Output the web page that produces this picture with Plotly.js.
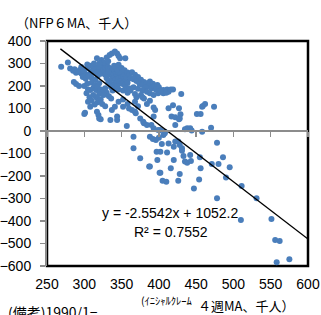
<!DOCTYPE html>
<html>
<head>
<meta charset="utf-8">
<script src="https://cdn.plot.ly/plotly-3.0.1.min.js"></script>
<style>html,body{margin:0;padding:0;background:#fff;}#chart{width:321px;height:315px;}</style>
</head>
<body>
<div id="chart"></div>
<script>
// Initial claims 4-week MA (thousand) vs NFP 6-month MA (thousand)
const claimsX = [
269,278,281,285,289,287,286,289,293,294,296,300,303,307,309,312,314,300,305,308,312,314,316,303,307,305,308,301,317,319,320,322,317,323,330,334,337,341,344,346,348,355,
298,302,306,310,315,318,320,322,325,318,312,308,304,296,292,299,316,322,326,328,330,326,332,320,313,304,
300,304,310,315,320,318,322,325,320,316,312,328,330,326,333,336,322,318,314,310,324,328,
332,335,338,340,342,345,348,340,335,338,342,346,350,352,355,348,344,340,336,332,334,350,354,358,356,352,348,344,340,346,350,354,358,360,362,336,342,346,352,338,344,330,328,332,356,360,
364,368,372,366,370,376,380,374,378,384,388,392,386,382,390,394,398,366,372,378,384,388,393,399,404,406,411,413,406,410,416,419,430,362,358,368,376,370,380,396,400,402,
368,369,380,390,393,364,368,375,379,384,393,395,399,357,337,344,344,335,352,341,358,352,346,360,372,384,388,378,
413,419,427,417,422,427,429,428,422,435,438,442,444,451,456,458,459,462,474,470,458,393,402,408,
366,366,375,387,388,392,396,400,406,408,422,426,428,413,404,420,431,431,402,411,442,433,398,420,435,438,443,455,478,486,471,480,495,402,416,428,456,454,405,410,426,447,478,490,511,531,388,510,551,556,562,558,575,397,401
];
const nfpY = [
286,304,278,268,259,274,218,209,200,271,256,259,249,253,264,259,274,76,185,182,190,197,182,168,150,130,108,81,86,71,56,52,323,316,327,338,345,353,345,333,323,323,
240,232,244,236,228,246,262,275,290,285,280,290,280,285,262,268,260,254,270,282,295,305,310,300,300,296,
200,210,215,205,212,195,185,175,165,150,160,190,170,160,155,145,140,128,118,135,120,110,
285,278,270,262,255,250,245,240,250,232,228,235,240,230,225,220,215,210,205,215,225,210,205,215,240,255,265,275,290,295,280,270,260,250,235,195,190,185,180,180,200,235,250,262,195,190,
261,250,240,230,222,228,218,210,205,212,220,210,200,195,190,198,205,195,188,180,175,168,160,168,175,182,185,175,168,170,185,185,164,180,170,165,160,150,145,185,195,180,
130,79,34,27,104,93,86,56,41,27,64,93,4,22,93,64,49,49,108,108,120,140,130,100,110,120,135,150,
101,114,101,64,61,52,74,56,27,8,12,12,2,76,76,108,111,120,108,15,-3,12,4,-3,
-25,-77,-121,-158,-26,-35,-40,-30,-18,-10,-47,-47,-62,-55,-58,-70,-77,-88,-92,-96,-107,-111,-129,-129,-136,-141,-133,-117,-52,-117,-147,-147,-161,-185,-166,-191,-166,-215,-221,-225,-221,-255,-299,-207,-244,-299,-158,-395,-391,-484,-489,-583,-570,-92,-185
];
// Linear trendline end points as drawn
const trendX = [268, 600];
const trendY = [365, -480];
const yTicks = [-600,-500,-400,-300,-200,-100,0,100,200,300,400];
const xTicks = [250,300,350,400,450,500,550,600];
const eqText = "y = -2.5542x + 1052.2";
const r2Text = "R² = 0.7552";

const traces = [
  {x: claimsX, y: nfpY, type: 'scatter', mode: 'markers',
   marker: {color: '#4a7ebb', size: 6}, hoverinfo: 'skip', xaxis: 'x', yaxis: 'y'},
  {x: trendX, y: trendY, type: 'scatter', mode: 'lines',
   line: {color: '#000', width: 1.3}, hoverinfo: 'skip', xaxis: 'x2', yaxis: 'y'}
];
const tickFont = {family: 'Liberation Sans, Arial, sans-serif', size: 14, color: '#000'};
const jp = 'Noto Sans CJK JP, sans-serif';
const layout = {
  width: 321, height: 315,
  margin: {l: 47, r: 13, t: 41, b: 49},
  paper_bgcolor: '#fff', plot_bgcolor: '#fff',
  showlegend: false,
  xaxis: {range: [250, 600], tickvals: xTicks, ticktext: xTicks.map(String), showgrid: false, zeroline: false,
          showline: false, ticks: '', tickfont: tickFont, ticklabelstandoff: 8, fixedrange: true},
  xaxis2: {overlaying: 'x', matches: 'x', anchor: 'free', position: 0.6, showgrid: false, zeroline: false,
           showline: true, linecolor: '#8c8c8c', linewidth: 2, ticks: 'outside', ticklen: 5, tickcolor: '#8c8c8c',
           tickwidth: 1.5, tickvals: xTicks, showticklabels: false},
  yaxis: {range: [-600, 400], tickvals: yTicks, ticktext: yTicks.map(v => v < 0 ? '\u2212' + Math.abs(v) : String(v)),
          showgrid: false, zeroline: false, showline: true, linecolor: '#8c8c8c', linewidth: 2,
          ticks: 'outside', ticklen: 5, tickcolor: '#8c8c8c', tickwidth: 1.5,
          tickfont: tickFont, ticklabelstandoff: 6, fixedrange: true},
  shapes: [{type: 'rect', xref: 'paper', yref: 'paper', x0: 0, x1: 1, y0: 0, y1: 1,
            line: {color: '#000', width: 2.5}, layer: 'below'}],
  annotations: [
    {text: '（NFP６MA、千人）', xref: 'paper', yref: 'paper', x: -0.125, y: 1.084, xanchor: 'left', yanchor: 'middle',
     showarrow: false, font: {family: jp, size: 13, color: '#000'}},
    {text: eqText, xref: 'paper', yref: 'paper', x: (170-47)/261, y: (266-213)/225, xanchor: 'center', yanchor: 'middle',
     showarrow: false, font: {family: 'Liberation Sans, Arial, sans-serif', size: 14, color: '#000'}},
    {text: r2Text, xref: 'paper', yref: 'paper', x: (171-47)/261, y: (266-232)/225, xanchor: 'center', yanchor: 'middle',
     showarrow: false, font: {family: 'Liberation Sans, Arial, sans-serif', size: 14, color: '#000'}},
    {text: '(ｲﾆｼｬﾙｸﾚｰﾑ', xref: 'paper', yref: 'paper', x: (194-47)/261, y: (266-300)/225, xanchor: 'right', yanchor: 'middle',
     showarrow: false, font: {family: jp, size: 10.5, color: '#000'}},
    {text: '４週MA、千人）', xref: 'paper', yref: 'paper', x: (196-47)/261, y: (266-305)/225, xanchor: 'left', yanchor: 'middle',
     showarrow: false, font: {family: jp, size: 13, color: '#000'}},
    {text: '(備考)1990/1−', xref: 'paper', yref: 'paper', x: (6-47)/261, y: (266-312)/225, xanchor: 'left', yanchor: 'middle',
     showarrow: false, font: {family: jp, size: 14, color: '#000'}}
  ]
};
Plotly.newPlot('chart', traces, layout, {staticPlot: true, displayModeBar: false});
</script>
</body>
</html>
